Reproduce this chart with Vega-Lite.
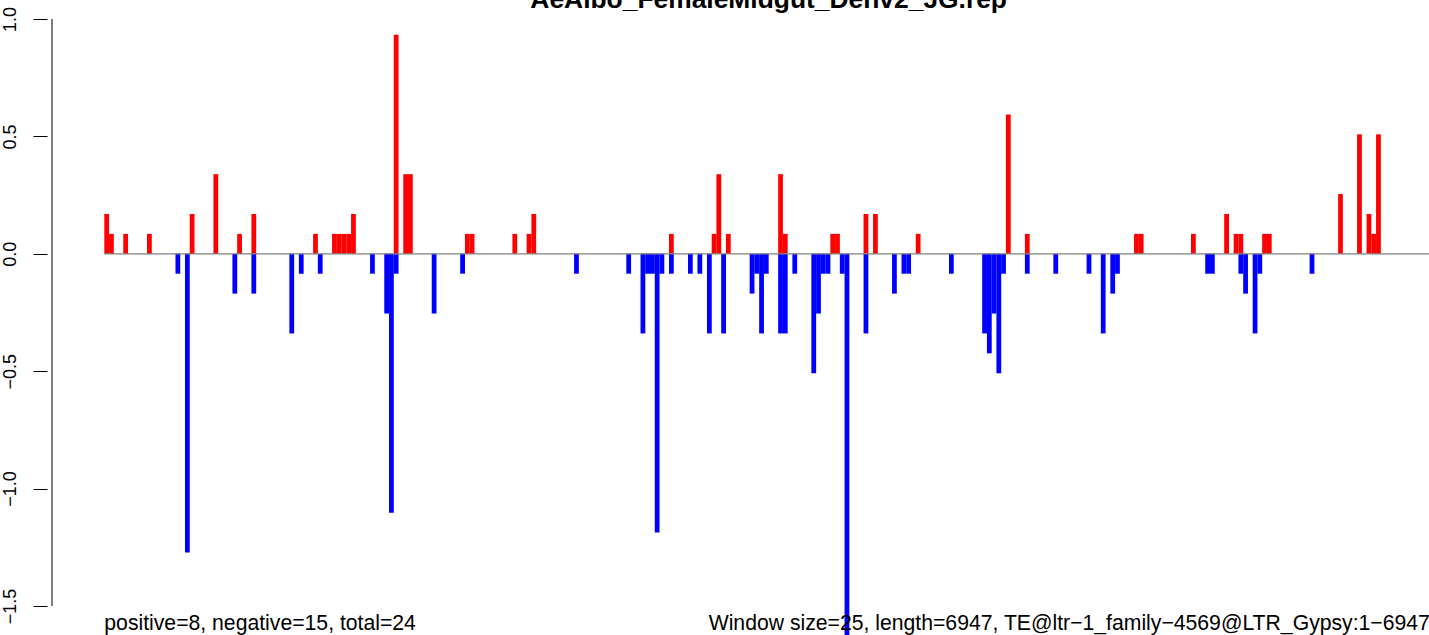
{
  "$schema": "https://vega.github.io/schema/vega-lite/v6.json",
  "width": 1382,
  "height": 635,
  "autosize": "none",
  "padding": {"left": 47, "top": 0, "right": 0, "bottom": 0},
  "background": "white",
  "config": {"view": {"stroke": null}, "font": "Liberation Sans"},
  "datasets": {
    "bars": [
      {"win": 0, "strand": "+", "value": 0.1696},
      {"win": 1, "strand": "+", "value": 0.0848},
      {"win": 4, "strand": "+", "value": 0.0848},
      {"win": 9, "strand": "+", "value": 0.0848},
      {"win": 18, "strand": "+", "value": 0.1696},
      {"win": 23, "strand": "+", "value": 0.3392},
      {"win": 28, "strand": "+", "value": 0.0848},
      {"win": 31, "strand": "+", "value": 0.1696},
      {"win": 44, "strand": "+", "value": 0.0848},
      {"win": 48, "strand": "+", "value": 0.0848},
      {"win": 49, "strand": "+", "value": 0.0848},
      {"win": 50, "strand": "+", "value": 0.0848},
      {"win": 51, "strand": "+", "value": 0.0848},
      {"win": 52, "strand": "+", "value": 0.1696},
      {"win": 61, "strand": "+", "value": 0.9328},
      {"win": 63, "strand": "+", "value": 0.3392},
      {"win": 64, "strand": "+", "value": 0.3392},
      {"win": 76, "strand": "+", "value": 0.0848},
      {"win": 77, "strand": "+", "value": 0.0848},
      {"win": 86, "strand": "+", "value": 0.0848},
      {"win": 89, "strand": "+", "value": 0.0848},
      {"win": 90, "strand": "+", "value": 0.1696},
      {"win": 119, "strand": "+", "value": 0.0848},
      {"win": 128, "strand": "+", "value": 0.0848},
      {"win": 129, "strand": "+", "value": 0.3392},
      {"win": 131, "strand": "+", "value": 0.0848},
      {"win": 142, "strand": "+", "value": 0.3392},
      {"win": 143, "strand": "+", "value": 0.0848},
      {"win": 153, "strand": "+", "value": 0.0848},
      {"win": 154, "strand": "+", "value": 0.0848},
      {"win": 160, "strand": "+", "value": 0.1696},
      {"win": 162, "strand": "+", "value": 0.1696},
      {"win": 171, "strand": "+", "value": 0.0848},
      {"win": 190, "strand": "+", "value": 0.5936},
      {"win": 194, "strand": "+", "value": 0.0848},
      {"win": 217, "strand": "+", "value": 0.0848},
      {"win": 218, "strand": "+", "value": 0.0848},
      {"win": 229, "strand": "+", "value": 0.0848},
      {"win": 236, "strand": "+", "value": 0.1696},
      {"win": 238, "strand": "+", "value": 0.0848},
      {"win": 239, "strand": "+", "value": 0.0848},
      {"win": 244, "strand": "+", "value": 0.0848},
      {"win": 245, "strand": "+", "value": 0.0848},
      {"win": 260, "strand": "+", "value": 0.2544},
      {"win": 264, "strand": "+", "value": 0.5088},
      {"win": 266, "strand": "+", "value": 0.1696},
      {"win": 267, "strand": "+", "value": 0.0848},
      {"win": 268, "strand": "+", "value": 0.5088},
      {"win": 15, "strand": "-", "value": -0.0848},
      {"win": 17, "strand": "-", "value": -1.272},
      {"win": 27, "strand": "-", "value": -0.1696},
      {"win": 31, "strand": "-", "value": -0.1696},
      {"win": 39, "strand": "-", "value": -0.3392},
      {"win": 41, "strand": "-", "value": -0.0848},
      {"win": 45, "strand": "-", "value": -0.0848},
      {"win": 56, "strand": "-", "value": -0.0848},
      {"win": 59, "strand": "-", "value": -0.2544},
      {"win": 60, "strand": "-", "value": -1.1024},
      {"win": 61, "strand": "-", "value": -0.0848},
      {"win": 69, "strand": "-", "value": -0.2544},
      {"win": 75, "strand": "-", "value": -0.0848},
      {"win": 99, "strand": "-", "value": -0.0848},
      {"win": 110, "strand": "-", "value": -0.0848},
      {"win": 113, "strand": "-", "value": -0.3392},
      {"win": 114, "strand": "-", "value": -0.0848},
      {"win": 115, "strand": "-", "value": -0.0848},
      {"win": 116, "strand": "-", "value": -1.1872},
      {"win": 117, "strand": "-", "value": -0.0848},
      {"win": 119, "strand": "-", "value": -0.0848},
      {"win": 123, "strand": "-", "value": -0.0848},
      {"win": 125, "strand": "-", "value": -0.0848},
      {"win": 127, "strand": "-", "value": -0.3392},
      {"win": 130, "strand": "-", "value": -0.3392},
      {"win": 136, "strand": "-", "value": -0.1696},
      {"win": 137, "strand": "-", "value": -0.0848},
      {"win": 138, "strand": "-", "value": -0.3392},
      {"win": 139, "strand": "-", "value": -0.0848},
      {"win": 142, "strand": "-", "value": -0.3392},
      {"win": 143, "strand": "-", "value": -0.3392},
      {"win": 145, "strand": "-", "value": -0.0848},
      {"win": 149, "strand": "-", "value": -0.5088},
      {"win": 150, "strand": "-", "value": -0.2544},
      {"win": 151, "strand": "-", "value": -0.0848},
      {"win": 152, "strand": "-", "value": -0.0848},
      {"win": 155, "strand": "-", "value": -0.0848},
      {"win": 156, "strand": "-", "value": -1.696},
      {"win": 160, "strand": "-", "value": -0.3392},
      {"win": 166, "strand": "-", "value": -0.1696},
      {"win": 168, "strand": "-", "value": -0.0848},
      {"win": 169, "strand": "-", "value": -0.0848},
      {"win": 178, "strand": "-", "value": -0.0848},
      {"win": 185, "strand": "-", "value": -0.3392},
      {"win": 186, "strand": "-", "value": -0.424},
      {"win": 187, "strand": "-", "value": -0.2544},
      {"win": 188, "strand": "-", "value": -0.5088},
      {"win": 189, "strand": "-", "value": -0.0848},
      {"win": 194, "strand": "-", "value": -0.0848},
      {"win": 200, "strand": "-", "value": -0.0848},
      {"win": 207, "strand": "-", "value": -0.0848},
      {"win": 210, "strand": "-", "value": -0.3392},
      {"win": 212, "strand": "-", "value": -0.1696},
      {"win": 213, "strand": "-", "value": -0.0848},
      {"win": 232, "strand": "-", "value": -0.0848},
      {"win": 233, "strand": "-", "value": -0.0848},
      {"win": 239, "strand": "-", "value": -0.0848},
      {"win": 240, "strand": "-", "value": -0.1696},
      {"win": 242, "strand": "-", "value": -0.3392},
      {"win": 243, "strand": "-", "value": -0.0848},
      {"win": 254, "strand": "-", "value": -0.0848}
    ]
  },
  "layer": [
    {
      "data": {"name": "bars"},
      "mark": {"type": "bar", "width": 4.78, "clip": true},
      "encoding": {
        "x": {"field": "win", "type": "quantitative", "scale": {"domain": [-11.525, 277.6], "nice": false, "zero": false}, "axis": null},
        "y": {
          "field": "value", "type": "quantitative",
          "scale": {"domain": [-1.6235, 1.0809], "nice": false, "zero": false},
          "axis": {
            "values": [-1.5, -1, -0.5, 0, 0.5, 1],
            "domain": false, "grid": false, "title": null,
            "ticks": true, "tickSize": 14, "tickColor": "black", "tickWidth": 1,
            "labelAngle": 270, "labelAlign": "center", "labelBaseline": "alphabetic",
            "labelPadding": 18, "labelFontSize": 18, "labelColor": "black", "labelFont": "Liberation Sans",
            "labelOverlap": false, "labelBound": false, "labelFlush": false,
            "labelExpr": "replace(format(datum.value, '.1f'), '-', '−')"
          }
        },
        "y2": {"datum": 0},
        "color": {"field": "strand", "type": "nominal", "scale": {"domain": ["+", "-"], "range": ["#FF0000", "#0000FF"]}, "legend": null}
      }
    },
    {
      "data": {"values": [{}]},
      "mark": {"type": "rule", "color": "#808080", "strokeWidth": 1.2},
      "encoding": {
        "x": {"datum": -0.5, "type": "quantitative", "scale": {"domain": [-11.525, 277.6], "nice": false, "zero": false}},
        "x2": {"datum": 279.5},
        "y": {"datum": 0, "type": "quantitative", "scale": {"domain": [-1.6235, 1.0809], "nice": false, "zero": false}}
      }
    },
    {
      "data": {"values": [{}]},
      "mark": {"type": "rule", "color": "black", "strokeWidth": 1},
      "encoding": {
        "x": {"datum": -11.525, "type": "quantitative", "scale": {"domain": [-11.525, 277.6], "nice": false, "zero": false}},
        "y": {"datum": -1.5, "type": "quantitative", "scale": {"domain": [-1.6235, 1.0809], "nice": false, "zero": false}},
        "y2": {"datum": 1}
      }
    },
    {
      "data": {"values": [{}]},
      "mark": {"type": "text", "align": "left", "baseline": "alphabetic", "fontSize": 21.2, "font": "Liberation Sans", "color": "black"},
      "encoding": {
        "x": {"datum": -0.5, "type": "quantitative", "scale": {"domain": [-11.525, 277.6], "nice": false, "zero": false}},
        "y": {"datum": -1.6001, "type": "quantitative", "scale": {"domain": [-1.6235, 1.0809], "nice": false, "zero": false}},
        "text": {"value": "positive=8, negative=15, total=24"}
      }
    },
    {
      "data": {"values": [{}]},
      "mark": {"type": "text", "align": "left", "baseline": "alphabetic", "fontSize": 21.2, "font": "Liberation Sans", "color": "black"},
      "encoding": {
        "x": {"datum": 126.85, "type": "quantitative", "scale": {"domain": [-11.525, 277.6], "nice": false, "zero": false}},
        "y": {"datum": -1.6001, "type": "quantitative", "scale": {"domain": [-1.6235, 1.0809], "nice": false, "zero": false}},
        "text": {"value": "Window size=25, length=6947, TE@ltr−1_family−4569@LTR_Gypsy:1−6947"}
      }
    },
    {
      "data": {"values": [{}]},
      "mark": {"type": "text", "align": "center", "baseline": "alphabetic", "fontSize": 26.4, "fontWeight": "bold", "font": "Liberation Sans", "color": "black"},
      "encoding": {
        "x": {"datum": 139.5, "type": "quantitative", "scale": {"domain": [-11.525, 277.6], "nice": false, "zero": false}},
        "y": {"datum": 1.0447, "type": "quantitative", "scale": {"domain": [-1.6235, 1.0809], "nice": false, "zero": false}},
        "text": {"value": "AeAlbo_FemaleMidgut_Denv2_JG.rep"}
      }
    }
  ]
}
